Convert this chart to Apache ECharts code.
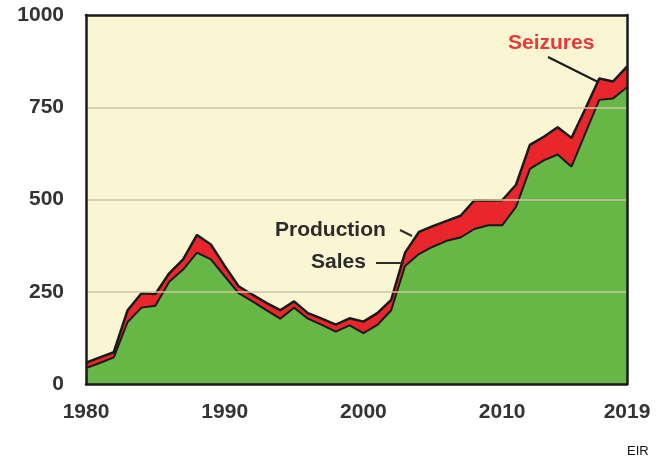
<!DOCTYPE html>
<html>
<head>
<meta charset="utf-8">
<script src="https://cdn.jsdelivr.net/npm/echarts@6/dist/echarts.min.js"></script>
<style>
html,body{margin:0;padding:0;background:#fff;}
#chart{width:668px;height:464px;}
</style>
</head>
<body>
<div id="chart"></div>
<script>
const years = ['1980','1981','1982','1983','1984','1985','1986','1987','1988','1989',
  '1990','1991','1992','1993','1994','1995','1996','1997','1998','1999',
  '2000','2001','2002','2003','2004','2005','2006','2007','2008','2009',
  '2010','2011','2012','2013','2014','2015','2016','2017','2018','2019'];
const production = [58,72,86,200,246,244,300,338,404,378,
  320,265,242,220,200,224,192,177,161,178,
  169,192,228,356,412,428,442,456,498,497,
  498,540,648,670,696,667,746,828,820,860];
const sales = [43,57,72,168,207,212,277,310,356,338,
  292,246,224,200,177,207,177,160,142,159,
  138,160,200,320,352,372,388,397,420,430,
  430,480,583,606,622,589,680,770,774,804];
const xTickLabels = ['1980','1990','2000','2010','2019'];
const yTicks = [0,250,500,750,1000];

const chart = echarts.init(document.getElementById('chart'), null, {renderer:'canvas'});
const labelFont = {fontFamily:'Liberation Sans, Arial, sans-serif', fontWeight:'bold', fontSize:21, color:'#333'};
const frame = {show:true, onZero:false, lineStyle:{color:'#1a1a1a', width:2.5}};
chart.setOption({
  animation:false,
  backgroundColor:'#ffffff',
  grid:{left:86,right:41,top:15,bottom:80,show:true,backgroundColor:'#FAF5D3',borderWidth:0},
  xAxis:[{
    type:'category', data:years, boundaryGap:false, z:5,
    axisLine:frame, axisTick:{show:false}, splitLine:{show:false},
    axisLabel:Object.assign({margin:18, interval:(i,v)=>xTickLabels.indexOf(v)>=0, showMaxLabel:true}, labelFont)
  },{
    type:'category', data:years, boundaryGap:false, position:'top', z:5,
    axisLine:frame, axisTick:{show:false}, axisLabel:{show:false}, splitLine:{show:false}
  }],
  yAxis:[{
    type:'value', min:yTicks[0], max:yTicks[yTicks.length-1], interval:250, z:5,
    axisLine:frame, axisTick:{show:false},
    splitLine:{show:true, showMinLine:false, showMaxLine:false, lineStyle:{color:'#CFC6A2', width:1.5}},
    axisLabel:Object.assign({margin:22, formatter:v=>String(v)}, labelFont)
  },{
    type:'value', min:yTicks[0], max:yTicks[yTicks.length-1], interval:250, position:'right', z:5,
    axisLine:frame, axisTick:{show:false}, axisLabel:{show:false}, splitLine:{show:false}
  }],
  series:[
    {name:'Production', type:'line', data:production, symbol:'none',
      lineStyle:{color:'#1a1a1a', width:2.5}, areaStyle:{color:'#E8262B', opacity:1}, z:2},
    {name:'Sales', type:'line', data:sales, symbol:'none',
      lineStyle:{color:'#1a1a1a', width:2}, areaStyle:{color:'#66B745', opacity:1}, z:3}
  ],
  graphic:[
    {type:'text', left:508, top:33, z:10, style:{text:'Seizures', fill:'#E8393A', font:'bold 21px "Liberation Sans", Arial, sans-serif'}},
    {type:'line', z:10, shape:{x1:548,y1:57,x2:598,y2:82}, style:{stroke:'#1a1a1a', lineWidth:2}},
    {type:'text', left:275, top:220, z:10, style:{text:'Production', fill:'#2b2b2b', font:'bold 21px "Liberation Sans", Arial, sans-serif'}},
    {type:'line', z:10, shape:{x1:400,y1:230,x2:412,y2:236}, style:{stroke:'#2b2b2b', lineWidth:2}},
    {type:'text', left:311, top:252, z:10, style:{text:'Sales', fill:'#2b2b2b', font:'bold 21px "Liberation Sans", Arial, sans-serif'}},
    {type:'line', z:10, shape:{x1:376,y1:263,x2:404,y2:263}, style:{stroke:'#2b2b2b', lineWidth:2}},
    {type:'text', left:627, top:445, z:10, style:{text:'EIR', fill:'#111', font:'13px "Liberation Sans", Arial, sans-serif'}}
  ]
});
</script>
</body>
</html>
